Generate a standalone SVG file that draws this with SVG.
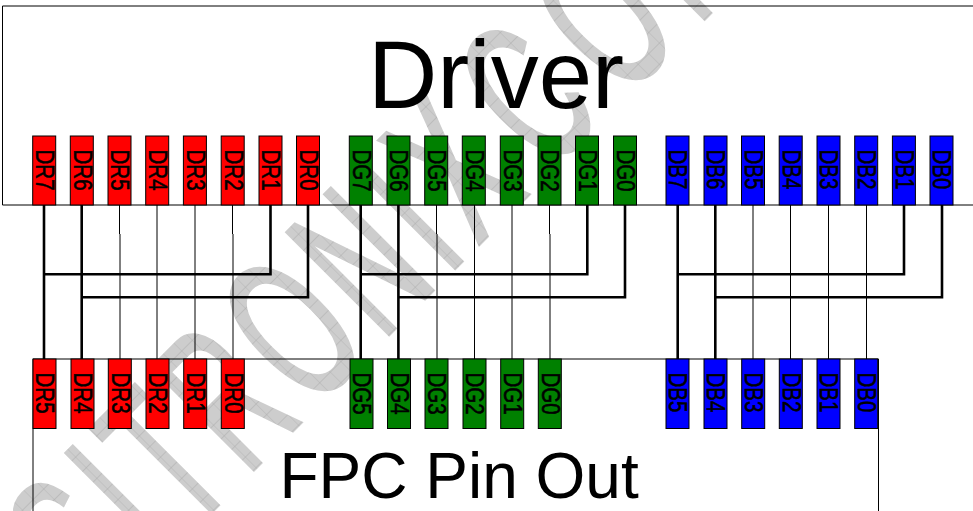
<svg xmlns="http://www.w3.org/2000/svg" width="973" height="511" viewBox="0 0 973 511">
<style>
text{font-family:"Liberation Sans",Arial,sans-serif;fill:#000}
.b{fill:none;stroke:#000;stroke-width:1}
.r rect,.g rect,.u rect{stroke:#000;stroke-width:1}
.r rect{fill:#f00}.g rect{fill:#008000}.u rect{fill:#00f}
.p{font-size:26px;stroke:#000;stroke-width:.55}
.t{font-size:96px}.f{font-size:64px}
#connectors path{fill:none;stroke:#000}
.thick{stroke-width:2.6}.thin{stroke-width:1}
.wm{font-size:209px;fill:url(#hatch);stroke:url(#hatch);stroke-width:4;letter-spacing:20.4px}
</style>
<defs>
<pattern id="hatch" patternUnits="userSpaceOnUse" width="27.8" height="15">
<rect width="27.8" height="15" fill="#cdcdcd"/>
<path d="M0 0H27.800M0 0V15" stroke="#ababab" stroke-width="1.200" fill="none"/>
</pattern>
</defs>
<rect width="973" height="511" fill="#fff"/>
<text class="wm" id="watermark" transform="translate(361.5 361.5) rotate(-45) scale(.54 1)" x="-687">SITRONIX<tspan x="491 685 880">CON</tspan></text>
<g id="driver">
<path class="b" d="M973 6H2.5V205H973"/>
<text class="t" x="368" y="108">Driver</text>
</g>
<g id="fpc">
<path class="b" d="M33 511V359H878.500V511"/>
<text class="f" x="279.500" y="497.500">FPC Pin Out</text>
</g>
<g id="connectors">
<path class="thick" d="M44 205V359M81.700 205V359M270.500 205V274.300H44M308 205V297.300H81.700"/>
<path class="thick" d="M360.700 205V359M398.400 205V359M587.300 205V274.300H360.700M625 205V297.300H398.400"/>
<path class="thick" d="M677.700 205V359M715.300 205V359M904 205V274.300H677.700M942 205V297.300H715.300"/>
<path class="thin" d="M119.500 205V234M120 234V359M157 205V234M157 234V359M195 205V234M195 234V359M232.500 205V234M233 234V359"/>
<path class="thin" d="M436.500 205V234M437 234V359M474.500 205V234M474.500 234V359M512 205V234M512 234V359M549.500 205V234M550 234V359"/>
<path class="thin" d="M753 205V359M790.500 205V359M828.500 205V359M866.500 205V359"/>
</g>
<g id="driver-pins">
<g id="d-dr7" class="r"><rect x="32.700" y="136" width="23" height="69"/><text class="p" transform="translate(36 149.500) rotate(90) scale(.79 1)">DR7</text></g>
<g id="d-dr6" class="r"><rect x="70.300" y="136" width="23" height="69"/><text class="p" transform="translate(73.600 149.500) rotate(90) scale(.79 1)">DR6</text></g>
<g id="d-dr5" class="r"><rect x="108" y="136" width="23" height="69"/><text class="p" transform="translate(111.300 149.500) rotate(90) scale(.79 1)">DR5</text></g>
<g id="d-dr4" class="r"><rect x="145.700" y="136" width="23" height="69"/><text class="p" transform="translate(149 149.500) rotate(90) scale(.79 1)">DR4</text></g>
<g id="d-dr3" class="r"><rect x="183.400" y="136" width="23" height="69"/><text class="p" transform="translate(186.700 149.500) rotate(90) scale(.79 1)">DR3</text></g>
<g id="d-dr2" class="r"><rect x="221.200" y="136" width="23" height="69"/><text class="p" transform="translate(224.500 149.500) rotate(90) scale(.79 1)">DR2</text></g>
<g id="d-dr1" class="r"><rect x="259" y="136" width="23" height="69"/><text class="p" transform="translate(262.300 149.500) rotate(90) scale(.79 1)">DR1</text></g>
<g id="d-dr0" class="r"><rect x="296.500" y="136" width="23" height="69"/><text class="p" transform="translate(299.800 149.500) rotate(90) scale(.79 1)">DR0</text></g>
<g id="d-dg7" class="g"><rect x="349.300" y="136" width="23" height="69"/><text class="p" transform="translate(352.600 149.500) rotate(90) scale(.79 1)">DG7</text></g>
<g id="d-dg6" class="g"><rect x="387" y="136" width="23" height="69"/><text class="p" transform="translate(390.300 149.500) rotate(90) scale(.79 1)">DG6</text></g>
<g id="d-dg5" class="g"><rect x="424.700" y="136" width="23" height="69"/><text class="p" transform="translate(428 149.500) rotate(90) scale(.79 1)">DG5</text></g>
<g id="d-dg4" class="g"><rect x="462.300" y="136" width="23" height="69"/><text class="p" transform="translate(465.600 149.500) rotate(90) scale(.79 1)">DG4</text></g>
<g id="d-dg3" class="g"><rect x="500.300" y="136" width="23" height="69"/><text class="p" transform="translate(503.600 149.500) rotate(90) scale(.79 1)">DG3</text></g>
<g id="d-dg2" class="g"><rect x="538" y="136" width="23" height="69"/><text class="p" transform="translate(541.300 149.500) rotate(90) scale(.79 1)">DG2</text></g>
<g id="d-dg1" class="g"><rect x="575.500" y="136" width="23" height="69"/><text class="p" transform="translate(578.800 149.500) rotate(90) scale(.79 1)">DG1</text></g>
<g id="d-dg0" class="g"><rect x="613.500" y="136" width="23" height="69"/><text class="p" transform="translate(616.800 149.500) rotate(90) scale(.79 1)">DG0</text></g>
<g id="d-db7" class="u"><rect x="666" y="136" width="23" height="69"/><text class="p" transform="translate(669.300 149.500) rotate(90) scale(.79 1)">DB7</text></g>
<g id="d-db6" class="u"><rect x="704" y="136" width="23" height="69"/><text class="p" transform="translate(707.300 149.500) rotate(90) scale(.79 1)">DB6</text></g>
<g id="d-db5" class="u"><rect x="741.500" y="136" width="23" height="69"/><text class="p" transform="translate(744.800 149.500) rotate(90) scale(.79 1)">DB5</text></g>
<g id="d-db4" class="u"><rect x="779.200" y="136" width="23" height="69"/><text class="p" transform="translate(782.500 149.500) rotate(90) scale(.79 1)">DB4</text></g>
<g id="d-db3" class="u"><rect x="817" y="136" width="23" height="69"/><text class="p" transform="translate(820.300 149.500) rotate(90) scale(.79 1)">DB3</text></g>
<g id="d-db2" class="u"><rect x="854.700" y="136" width="23" height="69"/><text class="p" transform="translate(858 149.500) rotate(90) scale(.79 1)">DB2</text></g>
<g id="d-db1" class="u"><rect x="892.400" y="136" width="23" height="69"/><text class="p" transform="translate(895.700 149.500) rotate(90) scale(.79 1)">DB1</text></g>
<g id="d-db0" class="u"><rect x="930" y="136" width="23" height="69"/><text class="p" transform="translate(933.300 149.500) rotate(90) scale(.79 1)">DB0</text></g>
</g>
<g id="fpc-pins">
<g id="f-dr5" class="r"><rect x="33" y="359" width="23" height="69.500"/><text class="p" transform="translate(36.300 372.500) rotate(90) scale(.79 1)">DR5</text></g>
<g id="f-dr4" class="r"><rect x="71" y="359" width="23" height="69.500"/><text class="p" transform="translate(74.300 372.500) rotate(90) scale(.79 1)">DR4</text></g>
<g id="f-dr3" class="r"><rect x="108.300" y="359" width="23" height="69.500"/><text class="p" transform="translate(111.600 372.500) rotate(90) scale(.79 1)">DR3</text></g>
<g id="f-dr2" class="r"><rect x="146" y="359" width="23" height="69.500"/><text class="p" transform="translate(149.300 372.500) rotate(90) scale(.79 1)">DR2</text></g>
<g id="f-dr1" class="r"><rect x="183.700" y="359" width="23" height="69.500"/><text class="p" transform="translate(187 372.500) rotate(90) scale(.79 1)">DR1</text></g>
<g id="f-dr0" class="r"><rect x="221.300" y="359" width="23" height="69.500"/><text class="p" transform="translate(224.600 372.500) rotate(90) scale(.79 1)">DR0</text></g>
<g id="f-dg5" class="g"><rect x="350" y="359" width="23" height="69.500"/><text class="p" transform="translate(353.300 372.500) rotate(90) scale(.79 1)">DG5</text></g>
<g id="f-dg4" class="g"><rect x="387.500" y="359" width="23" height="69.500"/><text class="p" transform="translate(390.800 372.500) rotate(90) scale(.79 1)">DG4</text></g>
<g id="f-dg3" class="g"><rect x="425" y="359" width="23" height="69.500"/><text class="p" transform="translate(428.300 372.500) rotate(90) scale(.79 1)">DG3</text></g>
<g id="f-dg2" class="g"><rect x="463" y="359" width="23" height="69.500"/><text class="p" transform="translate(466.300 372.500) rotate(90) scale(.79 1)">DG2</text></g>
<g id="f-dg1" class="g"><rect x="500.700" y="359" width="23" height="69.500"/><text class="p" transform="translate(504 372.500) rotate(90) scale(.79 1)">DG1</text></g>
<g id="f-dg0" class="g"><rect x="538.300" y="359" width="23" height="69.500"/><text class="p" transform="translate(541.600 372.500) rotate(90) scale(.79 1)">DG0</text></g>
<g id="f-db5" class="u"><rect x="666" y="359" width="23" height="69.500"/><text class="p" transform="translate(669.300 372.500) rotate(90) scale(.79 1)">DB5</text></g>
<g id="f-db4" class="u"><rect x="704" y="359" width="23" height="69.500"/><text class="p" transform="translate(707.300 372.500) rotate(90) scale(.79 1)">DB4</text></g>
<g id="f-db3" class="u"><rect x="741.700" y="359" width="23" height="69.500"/><text class="p" transform="translate(745 372.500) rotate(90) scale(.79 1)">DB3</text></g>
<g id="f-db2" class="u"><rect x="779.300" y="359" width="23" height="69.500"/><text class="p" transform="translate(782.600 372.500) rotate(90) scale(.79 1)">DB2</text></g>
<g id="f-db1" class="u"><rect x="817" y="359" width="23" height="69.500"/><text class="p" transform="translate(820.300 372.500) rotate(90) scale(.79 1)">DB1</text></g>
<g id="f-db0" class="u"><rect x="854.700" y="359" width="23" height="69.500"/><text class="p" transform="translate(858 372.500) rotate(90) scale(.79 1)">DB0</text></g>
</g>
</svg>
